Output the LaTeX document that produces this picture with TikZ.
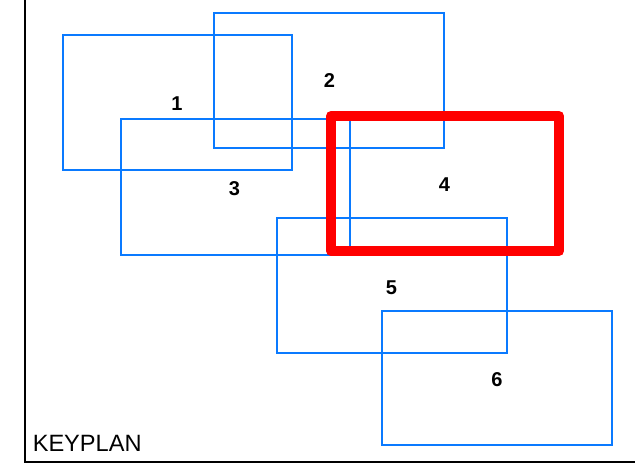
\documentclass[tikz,border=0pt]{standalone}
\usepackage{fontspec}
\setmainfont{Liberation Sans}
\usepackage{xcolor}
\usetikzlibrary{positioning}

\definecolor{sheetblue}{RGB}{10,122,255}
\definecolor{sheetred}{RGB}{255,0,0}

\tikzset{
  sheet/.style={draw=sheetblue, line width=1.6pt},
  current/.style={draw=sheetred, line width=7.5pt, line join=round},
  sheetno/.style={inner sep=0pt, font=\fontsize{15}{17}\selectfont\bfseries},
}

\begin{document}
\begin{tikzpicture}[x=0.75pt,y=0.75pt,yscale=-1,xscale=1]
\useasboundingbox (0,0) rectangle (635,474);

%Shape: Frame
\draw [line width=1.6pt]  (25,0) -- (25,462) -- (635,462) ;

%Shape: Rectangle [sheet 1]
\draw [sheet]  (63,35) rectangle (292,170) ;
%Shape: Rectangle [sheet 2]
\draw [sheet]  (214,13) rectangle (444,148) ;
%Shape: Rectangle [sheet 3]
\draw [sheet]  (121,119) rectangle (350,255) ;
%Shape: Rectangle [sheet 5]
\draw [sheet]  (277,218) rectangle (507,353) ;
%Shape: Rectangle [sheet 6]
\draw [sheet]  (382,311) rectangle (612,445) ;
%Shape: Rectangle [sheet 4, current]
\draw [current]  (331,116) rectangle (559,251) ;

% Text Node
\node [sheetno] (no1) at (177,104) {1};
% Text Node
\node [sheetno] (no2) at (329.5,81) {2};
% Text Node
\node [sheetno] (no3) at (234.5,188.5) {3};
% Text Node
\node [sheetno] (no4) at (444.5,185) {4};
% Text Node
\node [sheetno] (no5) at (391.5,287.5) {5};
% Text Node
\node [sheetno] (no6) at (497,380) {6};
% Text Node
\node [anchor=base west, inner sep=0pt, font=\fontsize{17.7}{20}\selectfont] (keyplan) at (32.5,451.5) {KEYPLAN};

\end{tikzpicture}
\end{document}
